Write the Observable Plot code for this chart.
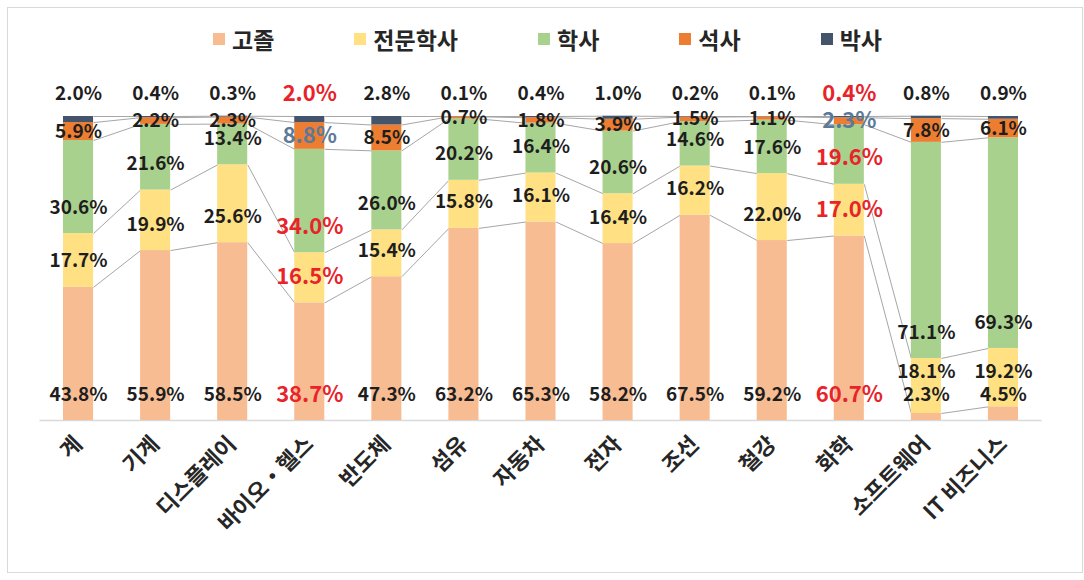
<!DOCTYPE html>
<html>
<head>
<meta charset="utf-8">
<script src="https://cdn.jsdelivr.net/npm/d3@7"></script>
<script src="https://cdn.jsdelivr.net/npm/@observablehq/plot@0.6"></script>
<style>
  html, body { margin: 0; padding: 0; background: #fff; }
  body { width: 1084px; height: 580px; position: relative; overflow: hidden; font-family: "Noto Sans CJK KR", "Noto Sans", sans-serif; }
  #frame { position: absolute; left: 7px; top: 7px; width: 1076px; height: 566px; box-sizing: border-box; border: 1px solid #d9d9d9; }
  #legend { height: 62px; display: flex; align-items: center; padding-left: 205px; box-sizing: border-box; font-size: 23px; font-weight: bold; color: #262626; }
  .item { display: flex; align-items: center; margin-right: 80px; }
  .sw { width: 12px; height: 12px; margin-right: 7px; }
</style>
</head>
<body>
<div id="frame">
  <div id="legend"></div>
  <div id="chart"></div>
</div>
<script>
const categories = ["계", "기계", "디스플레이", "바이오・헬스", "반도체", "섬유", "자동차", "전자", "조선", "철강", "화학", "소프트웨어", "IT 비즈니스"];
const series = ["고졸", "전문학사", "학사", "석사", "박사"];
const highSchool = [43.8, 55.9, 58.5, 38.7, 47.3, 63.2, 65.3, 58.2, 67.5, 59.2, 60.7, 2.3, 4.5];
const associate  = [17.7, 19.9, 25.6, 16.5, 15.4, 15.8, 16.1, 16.4, 16.2, 22.0, 17.0, 18.1, 19.2];
const bachelor   = [30.6, 21.6, 13.4, 34.0, 26.0, 20.2, 16.4, 20.6, 14.6, 17.6, 19.6, 71.1, 69.3];
const master     = [5.9, 2.2, 2.3, 8.8, 8.5, 0.7, 1.8, 3.9, 1.5, 1.1, 2.3, 7.8, 6.1];
const doctor     = [2.0, 0.4, 0.3, 2.0, 2.8, 0.1, 0.4, 1.0, 0.2, 0.1, 0.4, 0.8, 0.9];
const highlighted = ["바이오・헬스", "화학"];
const colors = ["#f8bc92", "#ffe183", "#a9d18e", "#ed7d31", "#44546a"];

const values = [highSchool, associate, bachelor, master, doctor];

// legend
const legend = document.getElementById("legend");
series.forEach((s, k) => {
  const it = document.createElement("div");
  it.className = "item";
  it.innerHTML = `<span class="sw" style="background:${colors[k]}"></span><span>${s}</span>`;
  legend.appendChild(it);
});

// stacked rows
const rows = categories.flatMap((c, i) => {
  let acc = 0;
  return series.map((s, k) => {
    const v = values[k][i];
    const r = {i, cat: c, s, k, v, y1: acc, y2: acc + v};
    acc += v;
    return r;
  });
});

// series lines between adjacent bars
const half = 0.195;
const links = [];
for (let i = 0; i < categories.length - 1; i++) {
  for (let k = 0; k < series.length; k++) {
    const a = rows.find(r => r.i === i && r.k === k);
    const b = rows.find(r => r.i === i + 1 && r.k === k);
    links.push({x1: i + half, x2: i + 1 - half, y1: a.y2, y2: b.y2});
  }
}

const positions = [
  {ks: [0, 1, 2], y: d => d.k === 1 ? Math.max(d.y1, 7.5) : d.y1, dy: -26},
  {ks: [3], y: d => (d.y1 + d.y2) / 2, dy: 0},
  {ks: [4], y: d => 100, dy: -23}
];
const labelStyles = [
  {test: d => !highlighted.includes(d.cat), fill: "#1e1e1e", fontSize: 19},
  {test: d => highlighted.includes(d.cat) && d.k !== 3, fill: "#e8232a", fontSize: 22},
  {test: d => highlighted.includes(d.cat) && d.k === 3, fill: "#5b7a99", fontSize: 22}
];
const textMarks = [];
for (const p of positions) {
  for (const st of labelStyles) {
    textMarks.push(Plot.text(rows, {
      filter: d => p.ks.includes(d.k) && st.test(d),
      x: "i", y: p.y, dy: p.dy,
      text: d => d.v.toFixed(1) + "%",
      fill: st.fill, fontSize: st.fontSize, fontWeight: "bold",
      fontFamily: "Noto Sans CJK KR"
    }));
  }
}

const chart = Plot.plot({
  width: 1074,
  height: 500,
  marginLeft: 31.5,
  marginRight: 40.5,
  marginTop: 46,
  marginBottom: 150,
  style: {fontFamily: "Noto Sans CJK KR", fontSize: "22px", fontWeight: "bold", color: "#262626", background: "transparent"},
  x: {domain: [-0.5, 12.5], ticks: d3.range(categories.length), tickFormat: i => categories[i], tickRotate: -45, tickSize: 0, tickPadding: 20, label: null},
  y: {domain: [0, 100], axis: null},
  color: {domain: series, range: colors},
  marks: [
    Plot.ruleY([0], {stroke: "#d9d9d9", strokeWidth: 1.5}),
    Plot.link(links, {x1: "x1", y1: "y1", x2: "x2", y2: "y2", stroke: "#a6a6a6", strokeWidth: 1}),
    Plot.rectY(rows, {x1: d => d.i - half, x2: d => d.i + half, y1: "y1", y2: "y2", fill: "s"}),
    ...textMarks
  ]
});
document.getElementById("chart").appendChild(chart);
</script>
</body>
</html>
